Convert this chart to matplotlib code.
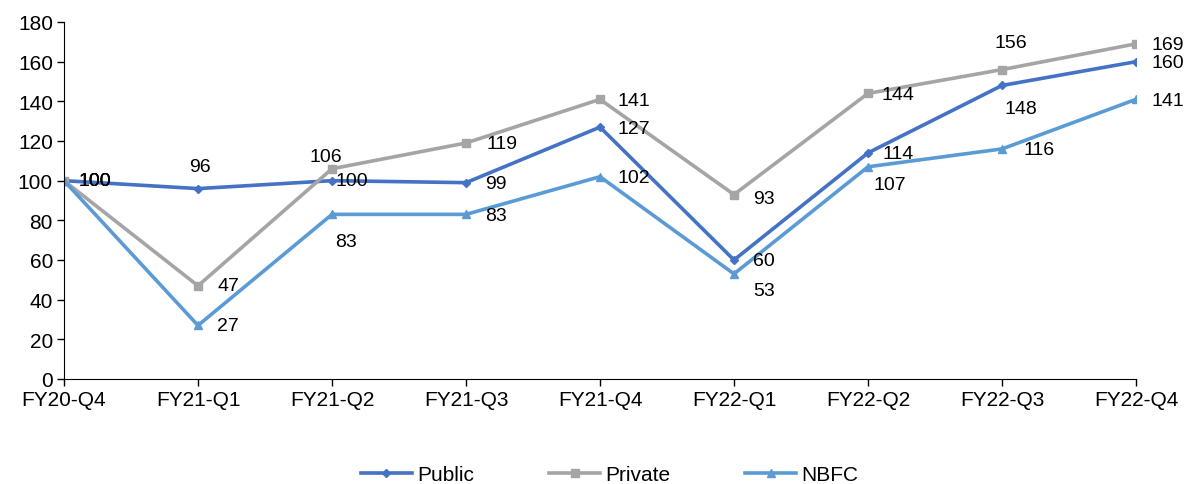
import matplotlib.pyplot as plt

plt.rcParams['font.family'] = ['Liberation Sans', 'DejaVu Sans']

quarters = ['FY20-Q4', 'FY21-Q1', 'FY21-Q2', 'FY21-Q3', 'FY21-Q4',
            'FY22-Q1', 'FY22-Q2', 'FY22-Q3', 'FY22-Q4']
public = [100, 96, 100, 99, 127, 60, 114, 148, 160]
private = [100, 47, 106, 119, 141, 93, 144, 156, 169]
nbfc = [100, 27, 83, 83, 102, 53, 107, 116, 141]

# label offsets in pixels (dx, dy) for each point
public_off = [(31, 0), (2, 22), (20, 0), (30, -1), (34, -1), (30, -1), (30, -1), (19, -23), (32, -1)]
private_off = [(31, 0), (30, 0), (-6, 12), (36, -1), (34, -1), (30, -4), (30, -1), (9, 27), (32, -1)]
nbfc_off = [(31, 0), (30, 0), (14, -27), (30, -1), (34, -1), (30, -17), (22, -18), (37, -1), (32, -1)]

fig = plt.figure(figsize=(11.84, 4.85), dpi=100)
ax = fig.add_axes([64 / 1184, 105 / 485, 1072 / 1184, 357 / 485])

x = range(len(quarters))
series = [
    ('Public', public, '#4472C4', 'D', 4, public_off),
    ('Private', private, '#A5A5A5', 's', 6, private_off),
    ('NBFC', nbfc, '#5B9BD5', '^', 6, nbfc_off),
]
for name, vals, color, mk, ms, offs in series:
    ax.plot(x, vals, color=color, lw=2.6, marker=mk, ms=ms, label=name)
for name, vals, color, mk, ms, offs in series:
    for i, v in enumerate(vals):
        ax.annotate(str(v), (i, v), xytext=offs[i], textcoords='offset pixels',
                    ha='center', va='center', fontsize=14, color='black',
                    annotation_clip=False)

ax.set_xlim(0, len(quarters) - 1)
ax.set_ylim(0, 180)
ax.set_yticks(range(0, 181, 20))
ax.set_xticks(list(x))
ax.set_xticklabels(quarters)
ax.tick_params(labelsize=15, length=5, width=1)
ax.tick_params(axis='x', pad=3)
ax.tick_params(axis='y', pad=3)
for s in ['top', 'right']:
    ax.spines[s].set_visible(False)

fig.legend(loc='center', bbox_to_anchor=(0.515, 0.02), ncol=3,
           frameon=False, fontsize=15, handlelength=2.45, columnspacing=3.6,
           handletextpad=0.25)
fig.savefig('out.png', dpi=100)
